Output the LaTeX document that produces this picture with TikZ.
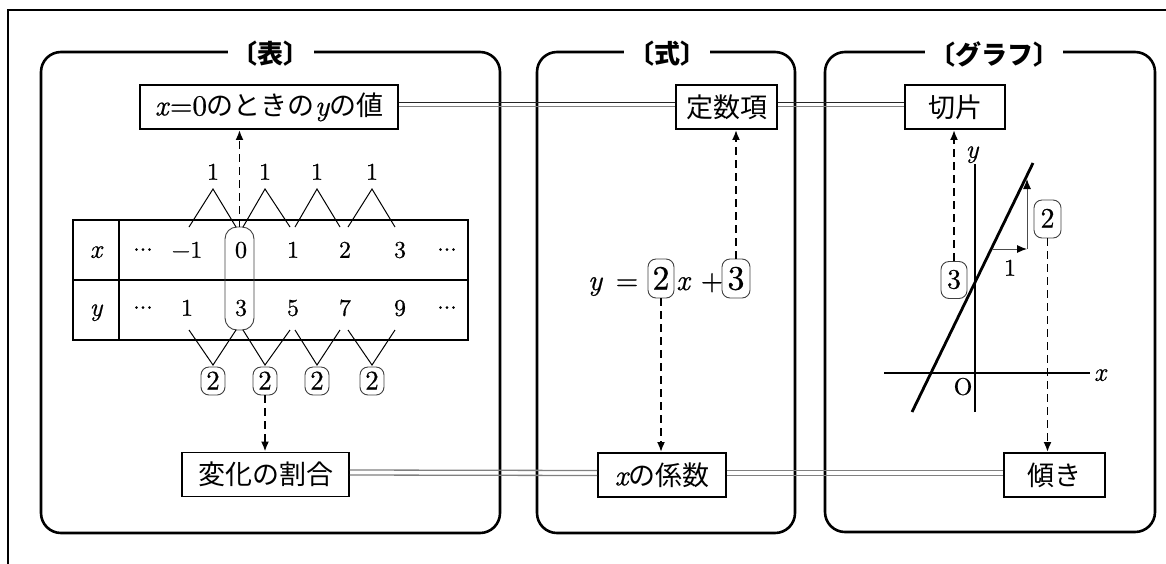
\documentclass[tikz,border=0pt]{standalone}
\usepackage{fontspec}
\setmainfont{lmroman10}[Extension=.otf, UprightFont=*-regular, ItalicFont=*-italic, BoldFont=*-bold, BoldItalicFont=*-bolditalic, UprightFeatures={FakeBold=0.6}, ItalicFeatures={FakeBold=0.6}]
\newfontfamily\jp{Noto Sans CJK JP}
\usetikzlibrary{arrows.meta}
\newcommand\cdts{\makebox[6.5pt]{\textperiodcentered}\makebox[6.5pt]{\textperiodcentered}\makebox[6.5pt]{\textperiodcentered}}
\tikzset{
  panel/.style={line width=2.6pt, rounded corners=20pt},
  ttl/.style={fill=white, inner xsep=4pt, inner ysep=0pt, font=\jp\bfseries\fontsize{26}{30}\selectfont},
  tbox/.style={draw, line width=1.9pt, minimum height=44pt, inner sep=0pt, font=\jp\fontsize{27}{31}\selectfont},
  dblA/.style={line width=1pt, black!85},
  dblB/.style={line width=1.3pt, black!50},
  darr/.style={line width=1.9pt, dash pattern=on 8pt off 5pt, -{Latex[length=10pt,width=8pt]}},
  rbox/.style={draw=black!75, line width=0.9pt, rounded corners=8pt, inner sep=0pt, text height=17pt, text depth=0pt},
  num/.style={font=\fontsize{24}{27}\selectfont, inner sep=0pt, text height=15.5pt, text depth=0pt},
  vline/.style={line width=1pt},
  tline/.style={line width=2.1pt},
  eqt/.style={font=\fontsize{29}{32}\selectfont, inner sep=0pt, anchor=base},
}
\begin{document}
\begin{tikzpicture}[x=1pt,y=-1pt]
\useasboundingbox (0,0) rectangle (1166,563);
% outer frame
\draw[tline] (8,566) -- (8,10) -- (1170,10);

% panels
\draw[panel] (41,52) rectangle (500,533);
\draw[panel] (537,52) rectangle (795,533);
\draw[panel] (825,52) rectangle (1155,532);
\node[ttl] (T1) at (270.5,54) {〔表〕};
\node[ttl] (T2) at (667,54) {〔式〕};
\node[ttl] (T3) at (994,54) {〔グラフ〕};

% term boxes
\node[tbox, minimum width=258pt] (A) at (269,107) {{\rmfamily\fontsize{29}{31}\selectfont\itshape x\/\upshape=0}のときの{\rmfamily\fontsize{29}{31}\selectfont\itshape y}の値};
\node[tbox, minimum width=101pt] (B) at (726.5,107) {定数項};
\node[tbox, minimum width=100pt] (C) at (955,107) {切片};
\node[tbox, minimum width=167pt] (D) at (265.5,474.5) {変化の割合};
\node[tbox, minimum width=128pt] (E) at (662,475) {{\rmfamily\fontsize{29}{31}\selectfont\itshape x}の係数};
\node[tbox, minimum width=101pt] (F) at (1054.5,475) {傾き};

% double connectors
\draw[dblA] ([yshift=5pt]A.east) -- ([yshift=5pt]B.west);
\draw[dblB] ([yshift=0.5pt]A.east) -- ([yshift=0.5pt]B.west);
\draw[dblA] ([yshift=5pt]B.east) -- ([yshift=5pt]C.west);
\draw[dblB] ([yshift=0.5pt]B.east) -- ([yshift=0.5pt]C.west);
\draw[dblB] ([yshift=4.5pt]D.east) -- ([yshift=4.5pt]E.west);
\draw[dblB] ([yshift=-0.5pt]D.east) -- ([yshift=-0.5pt]E.west);
\draw[dblB] ([yshift=4.5pt]E.east) -- ([yshift=4.5pt]F.west);
\draw[dblB] ([yshift=-0.5pt]E.east) -- ([yshift=-0.5pt]F.west);

% table
\draw[tline] (73,220) rectangle (468,340);
\draw[tline] (73,280) -- (468,280);
\draw[tline] (119,220) -- (119,340);
\node[num, font=\fontsize{26}{28}\selectfont\itshape] (HX) at (96,250) {x};
\node[num, font=\fontsize{26}{28}\selectfont\itshape] (HY) at (96,308) {y};
\node[num] (XA) at (143,250) {\cdts};
\node[num] (XB) at (187,250) {−1};
\node[num] (XC) at (241,250) {0};
\node[num] (XD) at (293,250) {1};
\node[num] (XE) at (345,250) {2};
\node[num] (XF) at (400,250) {3};
\node[num] (XG) at (447,250) {\cdts};
\node[num] (YA) at (143,308) {\cdts};
\node[num] (YB) at (187,308) {1};
\node[num] (YC) at (241,308) {3};
\node[num] (YD) at (293,308) {5};
\node[num] (YE) at (345,308) {7};
\node[num] (YF) at (400,308) {9};
\node[num] (YG) at (447,308) {\cdts};
\node[rbox, minimum width=29pt, minimum height=103pt, rounded corners=12pt] (ZC) at (239.5,278.5) {};

% differences
\foreach \a/\b/\c in {189/213/236, 243/265/290, 295/317/340, 348/372/395} {
  \draw[vline] (\a,227) -- (\b,189) -- (\c,227);
  \draw[vline] (\a,330) -- (\b,365) -- (\c,330);
}
\node[num] (U1) at (213,172) {1};
\node[num] (U2) at (265,172) {1};
\node[num] (U3) at (317,172) {1};
\node[num] (U4) at (372,172) {1};
\node[rbox, minimum width=24pt, minimum height=28pt, font=\fontsize{27}{30}\selectfont] (L1) at (213,381) {2};
\node[rbox, minimum width=24pt, minimum height=28pt, font=\fontsize{27}{30}\selectfont] (L2) at (265,381) {2};
\node[rbox, minimum width=24pt, minimum height=28pt, font=\fontsize{27}{30}\selectfont] (L3) at (317,381) {2};
\node[rbox, minimum width=24pt, minimum height=28pt, font=\fontsize{27}{30}\selectfont] (L4) at (372,381) {2};

% equation
\node[eqt, font=\fontsize{29}{32}\selectfont\itshape] (EY) at (595,290) {y};
\node[eqt] (EQ) at (627,290) {=};
\node[rbox, minimum width=26pt, minimum height=39pt, text height=22pt, font=\fontsize{34}{36}\selectfont] (EQ2) at (661,278.5) {2};
\node[eqt, font=\fontsize{29}{32}\selectfont\itshape] (EX) at (683,290) {x};
\node[eqt] (EP) at (712,290) {+};
\node[rbox, minimum width=28pt, minimum height=39pt, text height=22pt, font=\fontsize{34}{36}\selectfont] (EQ3) at (736,278.5) {3};

% graph
\coordinate (XL) at (884,373);
\coordinate (XR) at (1090,373);
\coordinate (YB0) at (975,412);
\coordinate (YT0) at (975,164);
\draw[tline] (XL) -- (XR);
\draw[tline] (YB0) -- (YT0);
\node[num, font=\fontsize{26}{28}\selectfont\itshape] (LX) at (1100,373) {x};
\node[num, font=\fontsize{26}{28}\selectfont\itshape] (LY) at (972,150) {y};
\node[num] (LO) at (963,387) {O};
\coordinate (P1) at (912,412);
\coordinate (P2) at (1033,163);
\draw[line width=2.8pt] (P1) -- (P2);
\coordinate (S0) at (993,249);
\coordinate (S1) at (1027,249);
\coordinate (S2) at (1027,179);
\draw[line width=1pt, black!70, -{Latex[length=10pt,width=8pt,color=black]}] (S0) -- (S1);
\draw[line width=1pt, black!70, -{Latex[length=10pt,width=8pt,color=black]}] (S1) -- (S2);
\node[num] (L1g) at (1010,268) {1};
\node[rbox, minimum width=27pt, minimum height=38pt, font=\fontsize{28}{30}\selectfont] (G2) at (1047.5,219) {2};
\node[rbox, minimum width=26pt, minimum height=37pt, font=\fontsize{28}{30}\selectfont] (G3) at (954,280) {3};

% dashed arrows
\draw[darr] (ZC.north) -- (ZC.north |- A.south);
\draw[darr] (L2.south) -- (L2.south |- D.north);
\draw[darr] (EQ3.north) -- (EQ3.north |- B.south);
\draw[darr] (EQ2.south) -- (EQ2.south |- E.north);
\draw[darr] (G3.north) -- (G3.north |- C.south);
\draw[darr] (G2.south) -- (G2.south |- F.north);
\end{tikzpicture}
\end{document}
